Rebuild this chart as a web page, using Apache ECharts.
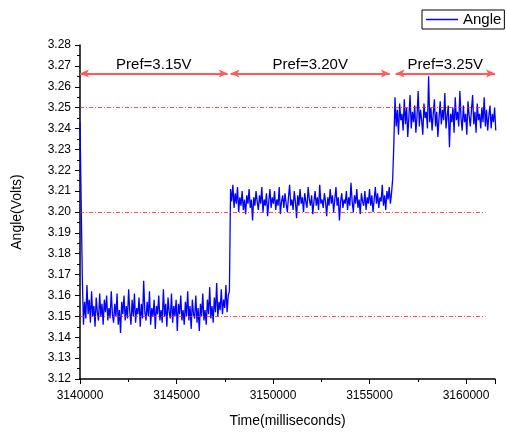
<!doctype html>
<html lang="en">
<head>
<meta charset="UTF-8">
<title>Angle vs Time</title>
<script src="https://cdn.jsdelivr.net/npm/echarts@6/dist/echarts.min.js"></script>
<style>
  html, body { margin: 0; padding: 0; background: #fff; }
  #main { width: 507px; height: 432px; }
</style>
</head>
<body>
<div id="main"></div>
<script type="text/javascript">
// sample times: start + i*step (ms)
var tStart = 3140000;
var tStep = 60;

// Pref = 3.15V
var seg1 = [
  3.243, 3.205, 3.168, 3.146, 3.157, 3.149, 3.165, 3.151, 3.158, 3.147,
  3.162, 3.150, 3.155, 3.145, 3.159, 3.152, 3.148, 3.161, 3.150, 3.156,
  3.146, 3.158, 3.152, 3.160, 3.148, 3.154, 3.149, 3.162, 3.151, 3.147,
  3.156, 3.150, 3.161, 3.146, 3.153, 3.142, 3.157, 3.151, 3.160, 3.148,
  3.155, 3.149, 3.163, 3.152, 3.146, 3.158, 3.150, 3.161, 3.147, 3.154,
  3.151, 3.159, 3.145, 3.156, 3.149, 3.167, 3.152, 3.148, 3.157, 3.150,
  3.162, 3.146, 3.154, 3.150, 3.158, 3.144, 3.155, 3.151, 3.160, 3.148,
  3.153, 3.147, 3.163, 3.150, 3.156, 3.145, 3.159, 3.152, 3.149, 3.161,
  3.147, 3.155, 3.150, 3.158, 3.143, 3.156, 3.151, 3.160, 3.148, 3.153,
  3.146, 3.157, 3.150, 3.162, 3.148, 3.155, 3.144, 3.158, 3.151, 3.149,
  3.160, 3.147, 3.154, 3.143, 3.156, 3.150, 3.161, 3.148, 3.153, 3.146,
  3.158, 3.151, 3.164, 3.149, 3.155, 3.147, 3.159, 3.152, 3.166, 3.150,
  3.157, 3.153, 3.163, 3.151, 3.158, 3.154, 3.165, 3.152, 3.160, 3.162
];
// Pref = 3.20V
var seg2 = [
  3.211, 3.205, 3.213, 3.202, 3.209, 3.204, 3.212, 3.200, 3.207, 3.203,
  3.210, 3.201, 3.206, 3.199, 3.208, 3.204, 3.211, 3.202, 3.206, 3.196,
  3.207, 3.203, 3.210, 3.205, 3.201, 3.208, 3.204, 3.212, 3.200, 3.206,
  3.203, 3.209, 3.198, 3.205, 3.211, 3.202, 3.207, 3.204, 3.210, 3.201,
  3.206, 3.203, 3.212, 3.199, 3.205, 3.208, 3.202, 3.209, 3.204, 3.200,
  3.207, 3.213, 3.203, 3.206, 3.201, 3.210, 3.205, 3.197, 3.208, 3.203,
  3.211, 3.204, 3.207, 3.200, 3.209, 3.205, 3.202, 3.212, 3.206, 3.203,
  3.208, 3.199, 3.205, 3.210, 3.203, 3.207, 3.201, 3.213, 3.204, 3.206,
  3.202, 3.209, 3.205, 3.198, 3.207, 3.203, 3.211, 3.204, 3.208, 3.200,
  3.206, 3.212, 3.203, 3.207, 3.196, 3.205, 3.209, 3.202, 3.206, 3.204,
  3.210, 3.201, 3.207, 3.203, 3.214, 3.205, 3.200, 3.208, 3.204, 3.211,
  3.202, 3.206, 3.199, 3.209, 3.205, 3.203, 3.210, 3.201, 3.207, 3.204,
  3.211, 3.203, 3.208, 3.200, 3.206, 3.212, 3.204, 3.209, 3.202, 3.207,
  3.205, 3.213, 3.203, 3.208, 3.201, 3.210, 3.206, 3.212, 3.204, 3.209,
  3.216
];
// Pref = 3.25V
var seg3 = [
  3.233, 3.255, 3.241, 3.249, 3.237, 3.252, 3.244, 3.247, 3.239, 3.254,
  3.242, 3.250, 3.236, 3.246, 3.256, 3.240, 3.248, 3.243, 3.251, 3.238,
  3.246, 3.258, 3.241, 3.249, 3.244, 3.237, 3.252, 3.245, 3.248, 3.240,
  3.265, 3.243, 3.250, 3.239, 3.247, 3.254, 3.241, 3.248, 3.236, 3.245,
  3.253, 3.242, 3.249, 3.244, 3.257, 3.240, 3.246, 3.251, 3.231, 3.247,
  3.243, 3.250, 3.238, 3.255, 3.244, 3.248, 3.241, 3.258, 3.245, 3.239,
  3.251, 3.243, 3.247, 3.237, 3.253, 3.246, 3.241, 3.249, 3.256, 3.242,
  3.248, 3.238, 3.252, 3.244, 3.247, 3.240, 3.250, 3.243, 3.255, 3.241,
  3.249, 3.239, 3.246, 3.251, 3.240, 3.247, 3.243, 3.250, 3.239
];

var prefLevels = [3.15, 3.20, 3.25];
var prefLabels = ['Pref=3.15V', 'Pref=3.20V', 'Pref=3.25V'];
var prefSpans = [[3140000, 3147650], [3147800, 3156050], [3156350, 3161500]];
var arrowY = 3.2664;

var values = seg1.concat(seg2, seg3);
var lineData = [];
for (var i = 0; i < values.length; i++) {
    lineData.push([tStart + i * tStep, values[i]]);
}

var refLines = [];
for (var i = 0; i < prefLevels.length; i++) {
    refLines.push([{coord: [3140000, prefLevels[i]]}, {coord: [3161000, prefLevels[i]]}]);
}
var arrows = [];
for (var i = 0; i < prefSpans.length; i++) {
    arrows.push([
        {coord: [prefSpans[i][0], arrowY], label: {formatter: prefLabels[i]}},
        {coord: [prefSpans[i][1], arrowY]}
    ]);
}

var myChart = echarts.init(document.getElementById('main'));

var option = {
    animation: false,
    textStyle: {fontFamily: 'Liberation Sans, Arial, sans-serif'},
    legend: {
        left: 422,
        top: 10,
        padding: [2, 3, 2, 4],
        borderColor: '#000',
        borderWidth: 1,
        itemWidth: 32,
        itemHeight: 1.5,
        itemGap: 4,
        textStyle: {fontSize: 15, color: '#000', padding: [0, 0, 0, 0]},
        data: [{name: 'Angle', icon: 'rect', itemStyle: {color: '#0000ff'}}]
    },
    grid: {left: 80, right: 12, top: 45, bottom: 53, outerBoundsMode: 'none', containLabel: false},
    xAxis: {
        type: 'value',
        min: 3140000,
        max: 3161500,
        interval: 5000,
        name: 'Time(milliseconds)',
        nameLocation: 'middle',
        nameGap: 35,
        nameTextStyle: {fontSize: 14, color: '#000'},
        axisLine: {lineStyle: {color: '#000', width: 1.5}},
        axisTick: {length: 5, lineStyle: {color: '#000'}},
        minorTick: {show: true, splitNumber: 2, length: 3, lineStyle: {color: '#000'}},
        axisLabel: {fontSize: 12, color: '#000', margin: 11, showMaxLabel: false,
            formatter: function (v) { return String(v); }},
        splitLine: {show: false}
    },
    yAxis: {
        type: 'value',
        min: 3.12,
        max: 3.28,
        interval: 0.01,
        name: 'Angle(Volts)',
        nameLocation: 'middle',
        nameGap: 56,
        nameTextStyle: {fontSize: 14, color: '#000'},
        axisLine: {show: true, lineStyle: {color: '#000', width: 1.5}},
        axisTick: {show: true, length: 5, lineStyle: {color: '#000'}},
        minorTick: {show: true, splitNumber: 2, length: 3, lineStyle: {color: '#000'}},
        axisLabel: {fontSize: 12, color: '#000', margin: 9, formatter: function (v) { return v.toFixed(2); }},
        splitLine: {show: false}
    },
    series: [
        {
            name: 'Angle',
            type: 'line',
            data: lineData,
            showSymbol: false,
            symbol: 'none',
            lineStyle: {color: '#0000ff', width: 1.3},
            itemStyle: {color: '#0000ff'},
            z: 3
        },
        {
            // reference levels
            name: 'ref',
            type: 'line',
            data: [],
            clip: false,
            markLine: {
                silent: true,
                symbol: ['none', 'none'],
                label: {show: false},
                lineStyle: {color: '#ff2020', width: 1, type: [4, 2, 1, 2], opacity: 0.8},
                data: refLines
            }
        },
        {
            // Pref arrows
            name: 'pref',
            type: 'line',
            data: [],
            clip: false,
            markLine: {
                silent: true,
                symbol: ['arrow', 'arrow'],
                symbolSize: [6, 9],
                lineStyle: {color: '#ff5a5a', width: 2, type: 'solid'},
                itemStyle: {color: '#ff0000'},
                label: {
                    show: true,
                    position: 'middle',
                    distance: 1,
                    color: '#000',
                    fontSize: 15
                },
                data: arrows
            }
        }
    ]
};

myChart.setOption(option);
</script>
</body>
</html>
